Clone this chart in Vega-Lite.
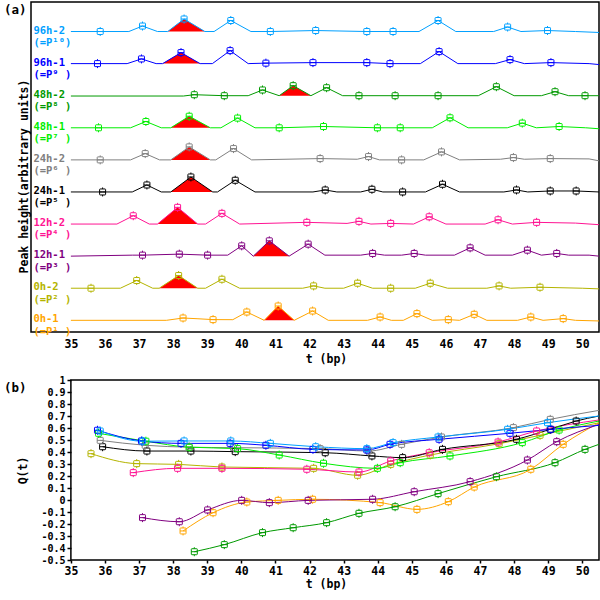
{
  "$schema": "https://vega.github.io/schema/vega-lite/v6.json",
  "background": "white",
  "padding": {"left": 3, "top": 1, "right": 0, "bottom": 0},
  "spacing": 9,
  "config": {
    "font": "DejaVu Sans Mono",
    "view": {"stroke": "black", "strokeWidth": 1.5},
    "axis": {
      "labelFont": "DejaVu Sans Mono", "labelFontWeight": "bold", "labelFontSize": 11.5, "labelColor": "black",
      "titleFont": "DejaVu Sans Mono", "titleFontWeight": "bold", "titleFontSize": 11.5, "titleColor": "black",
      "grid": false, "domain": false, "tickColor": "black", "tickWidth": 1.5, "labelFlush": false, "labelOverlap": false
    },
    "title": {"font": "DejaVu Sans Mono", "fontWeight": "bold", "fontSize": 12.5, "anchor": "start", "frame": "group", "offset": 0, "baseline": "bottom", "color": "black"}
  },
  "datasets": {
    "trace": [
      {"s":"96h-2","t":35,"y":9},{"s":"96h-2","t":35.86,"y":9,"m":1},{"s":"96h-2","t":36.7,"y":9},{"s":"96h-2","t":37.1,"y":9.171,"m":1},{"s":"96h-2","t":37.54,"y":9},
      {"s":"96h-2","t":37.84,"y":9,"f":1,"b":9},{"s":"96h-2","t":38.32,"y":9.39,"m":1,"f":1,"b":9},{"s":"96h-2","t":38.93,"y":9,"f":1,"b":9},
      {"s":"96h-2","t":39.2,"y":9},{"s":"96h-2","t":39.69,"y":9.343,"m":1},{"s":"96h-2","t":40.28,"y":9},{"s":"96h-2","t":40.85,"y":9,"m":1},
      {"s":"96h-2","t":42.18,"y":9.031,"m":1},{"s":"96h-2","t":43.68,"y":9,"m":1},{"s":"96h-2","t":44.45,"y":9,"m":1},{"s":"96h-2","t":45.21,"y":9},
      {"s":"96h-2","t":45.77,"y":9.343,"m":1},{"s":"96h-2","t":46.29,"y":9},{"s":"96h-2","t":47.4,"y":9},{"s":"96h-2","t":47.81,"y":9.14,"m":1},
      {"s":"96h-2","t":48.2,"y":9},{"s":"96h-2","t":48.98,"y":9.031,"m":1},{"s":"96h-2","t":49.8,"y":9},{"s":"96h-2","t":50.49,"y":8.97},

      {"s":"96h-1","t":35,"y":8},{"s":"96h-1","t":35.78,"y":8,"m":1},{"s":"96h-1","t":36.65,"y":8},{"s":"96h-1","t":37.07,"y":8.146,"m":1},{"s":"96h-1","t":37.5,"y":8},
      {"s":"96h-1","t":37.69,"y":8,"f":1,"b":8},{"s":"96h-1","t":38.23,"y":8.343,"m":1,"f":1,"b":8},{"s":"96h-1","t":38.79,"y":8,"f":1,"b":8},
      {"s":"96h-1","t":39.15,"y":8},{"s":"96h-1","t":39.67,"y":8.405,"m":1},{"s":"96h-1","t":40.2,"y":8},{"s":"96h-1","t":40.72,"y":8.015,"m":1},
      {"s":"96h-1","t":42.1,"y":8.031,"m":1},{"s":"96h-1","t":43.68,"y":8.031,"m":1},{"s":"96h-1","t":44.36,"y":8,"m":1},{"s":"96h-1","t":45.25,"y":8},
      {"s":"96h-1","t":45.8,"y":8.374,"m":1},{"s":"96h-1","t":46.35,"y":8},{"s":"96h-1","t":47.45,"y":8},{"s":"96h-1","t":47.88,"y":8.125,"m":1},
      {"s":"96h-1","t":48.3,"y":8},{"s":"96h-1","t":49.08,"y":8.031,"m":1},{"s":"96h-1","t":50.2,"y":8},{"s":"96h-1","t":50.49,"y":7.97},

      {"s":"48h-2","t":35,"y":6.99},{"s":"48h-2","t":38.3,"y":6.99},{"s":"48h-2","t":38.62,"y":7.031,"m":1},{"s":"48h-2","t":39.5,"y":7,"m":1},
      {"s":"48h-2","t":40.2,"y":7},{"s":"48h-2","t":40.62,"y":7.178,"m":1},
      {"s":"48h-2","t":41.11,"y":7,"f":1,"b":7},{"s":"48h-2","t":41.52,"y":7.312,"m":1,"f":1,"b":7},{"s":"48h-2","t":42.04,"y":7,"f":1,"b":7},
      {"s":"48h-2","t":42.5,"y":7.249,"m":1},{"s":"48h-2","t":42.97,"y":7},{"s":"48h-2","t":43.45,"y":7,"m":1},{"s":"48h-2","t":44.51,"y":7,"m":1},
      {"s":"48h-2","t":45.77,"y":7,"m":1},{"s":"48h-2","t":46.95,"y":7},{"s":"48h-2","t":47.48,"y":7.28,"m":1},{"s":"48h-2","t":48.0,"y":7},
      {"s":"48h-2","t":48.8,"y":7},{"s":"48h-2","t":49.2,"y":7.125,"m":1},{"s":"48h-2","t":49.6,"y":7},{"s":"48h-2","t":50.08,"y":7,"m":1},{"s":"48h-2","t":50.49,"y":7},

      {"s":"48h-1","t":35,"y":6},{"s":"48h-1","t":35.81,"y":6,"m":1},{"s":"48h-1","t":36.75,"y":6},{"s":"48h-1","t":37.2,"y":6.196,"m":1},{"s":"48h-1","t":37.65,"y":6},
      {"s":"48h-1","t":37.93,"y":6,"f":1,"b":6},{"s":"48h-1","t":38.47,"y":6.36,"m":1,"f":1,"b":6},{"s":"48h-1","t":39.09,"y":6,"f":1,"b":6},
      {"s":"48h-1","t":39.4,"y":6},{"s":"48h-1","t":39.89,"y":6.302,"m":1},{"s":"48h-1","t":40.4,"y":6},{"s":"48h-1","t":41.11,"y":6,"m":1},
      {"s":"48h-1","t":42.41,"y":6.04,"m":1},{"s":"48h-1","t":43.99,"y":6,"m":1},{"s":"48h-1","t":44.66,"y":6,"m":1},{"s":"48h-1","t":45.6,"y":6},
      {"s":"48h-1","t":46.12,"y":6.312,"m":1},{"s":"48h-1","t":46.65,"y":6},{"s":"48h-1","t":47.8,"y":6},{"s":"48h-1","t":48.24,"y":6.146,"m":1},
      {"s":"48h-1","t":48.65,"y":6},{"s":"48h-1","t":49.32,"y":6.04,"m":1},{"s":"48h-1","t":50.1,"y":6},{"s":"48h-1","t":50.49,"y":5.97},

      {"s":"24h-2","t":35,"y":5},{"s":"24h-2","t":35.86,"y":5,"m":1},{"s":"24h-2","t":36.75,"y":5},{"s":"24h-2","t":37.18,"y":5.196,"m":1},{"s":"24h-2","t":37.6,"y":5},
      {"s":"24h-2","t":37.93,"y":5,"f":1,"b":5},{"s":"24h-2","t":38.47,"y":5.405,"m":1,"f":1,"b":5},{"s":"24h-2","t":39.09,"y":5,"f":1,"b":5},
      {"s":"24h-2","t":39.25,"y":5},{"s":"24h-2","t":39.77,"y":5.352,"m":1},{"s":"24h-2","t":40.3,"y":5},{"s":"24h-2","t":42.31,"y":5.04,"m":1},
      {"s":"24h-2","t":43.4,"y":5.02},{"s":"24h-2","t":43.73,"y":5.103,"m":1},{"s":"24h-2","t":44.05,"y":5},{"s":"24h-2","t":44.7,"y":5,"m":1},
      {"s":"24h-2","t":45.35,"y":5},{"s":"24h-2","t":45.87,"y":5.249,"m":1},{"s":"24h-2","t":46.4,"y":5},{"s":"24h-2","t":47.6,"y":5.02},
      {"s":"24h-2","t":47.98,"y":5.072,"m":1},{"s":"24h-2","t":48.3,"y":5.02},{"s":"24h-2","t":49.06,"y":5.04,"m":1},{"s":"24h-2","t":50.2,"y":5.03},{"s":"24h-2","t":50.49,"y":4.97},

      {"s":"24h-1","t":35,"y":4},{"s":"24h-1","t":35.93,"y":4,"m":1},{"s":"24h-1","t":36.8,"y":4},{"s":"24h-1","t":37.23,"y":4.218,"m":1},{"s":"24h-1","t":37.65,"y":4},
      {"s":"24h-1","t":37.93,"y":4,"f":1,"b":4},{"s":"24h-1","t":38.52,"y":4.467,"m":1,"f":1,"b":4},{"s":"24h-1","t":39.16,"y":4,"f":1,"b":4},
      {"s":"24h-1","t":39.3,"y":4},{"s":"24h-1","t":39.82,"y":4.365,"m":1},{"s":"24h-1","t":40.4,"y":4},{"s":"24h-1","t":42.1,"y":4},
      {"s":"24h-1","t":42.46,"y":4.062,"m":1},{"s":"24h-1","t":42.8,"y":4},{"s":"24h-1","t":43.5,"y":4},{"s":"24h-1","t":43.83,"y":4.084,"m":1},
      {"s":"24h-1","t":44.15,"y":4},{"s":"24h-1","t":44.73,"y":4,"m":1},{"s":"24h-1","t":45.4,"y":4},{"s":"24h-1","t":45.9,"y":4.24,"m":1},
      {"s":"24h-1","t":46.4,"y":4},{"s":"24h-1","t":47.7,"y":4},{"s":"24h-1","t":48.07,"y":4.062,"m":1},{"s":"24h-1","t":48.4,"y":4},
      {"s":"24h-1","t":49.06,"y":4.031,"m":1},{"s":"24h-1","t":49.82,"y":4.031,"m":1},{"s":"24h-1","t":50.49,"y":4},

      {"s":"12h-2","t":35,"y":3},{"s":"12h-2","t":36.35,"y":3},{"s":"12h-2","t":36.83,"y":3.259,"m":1},{"s":"12h-2","t":37.3,"y":3},
      {"s":"12h-2","t":37.54,"y":3,"f":1,"b":3},{"s":"12h-2","t":38.13,"y":3.52,"m":1,"f":1,"b":3},{"s":"12h-2","t":38.72,"y":3,"f":1,"b":3},
      {"s":"12h-2","t":38.95,"y":3},{"s":"12h-2","t":39.43,"y":3.333,"m":1},{"s":"12h-2","t":39.95,"y":3},{"s":"12h-2","t":41.92,"y":3.053,"m":1},
      {"s":"12h-2","t":43.1,"y":3.02},{"s":"12h-2","t":43.45,"y":3.084,"m":1},{"s":"12h-2","t":43.8,"y":3},{"s":"12h-2","t":44.38,"y":3.02,"m":1},
      {"s":"12h-2","t":45.05,"y":3},{"s":"12h-2","t":45.51,"y":3.227,"m":1},{"s":"12h-2","t":46.0,"y":3},{"s":"12h-2","t":47.15,"y":3},
      {"s":"12h-2","t":47.53,"y":3.134,"m":1},{"s":"12h-2","t":47.95,"y":3},{"s":"12h-2","t":48.66,"y":3.053,"m":1},{"s":"12h-2","t":49.8,"y":3.03},{"s":"12h-2","t":50.49,"y":2.98},

      {"s":"12h-1","t":35,"y":2},{"s":"12h-1","t":36.8,"y":2.031},{"s":"12h-1","t":37.1,"y":2.031,"m":1},{"s":"12h-1","t":38.18,"y":2.062,"m":1},
      {"s":"12h-1","t":39.01,"y":2.031,"m":1},{"s":"12h-1","t":39.6,"y":2.031},{"s":"12h-1","t":40.01,"y":2.321,"m":1},
      {"s":"12h-1","t":40.35,"y":2,"f":1,"b":2},{"s":"12h-1","t":40.82,"y":2.477,"m":1,"f":1,"b":2},{"s":"12h-1","t":41.4,"y":2,"f":1,"b":2},
      {"s":"12h-1","t":41.96,"y":2.374,"m":1},{"s":"12h-1","t":42.45,"y":2.031},{"s":"12h-1","t":43.5,"y":2.031},{"s":"12h-1","t":43.85,"y":2.084,"m":1},
      {"s":"12h-1","t":44.2,"y":2.031},{"s":"12h-1","t":44.7,"y":2.031},{"s":"12h-1","t":45.07,"y":2.084,"m":1},{"s":"12h-1","t":45.4,"y":2.031},
      {"s":"12h-1","t":46.25,"y":2.031},{"s":"12h-1","t":46.71,"y":2.259,"m":1},{"s":"12h-1","t":47.15,"y":2.031},{"s":"12h-1","t":47.95,"y":2.031},
      {"s":"12h-1","t":48.39,"y":2.187,"m":1},{"s":"12h-1","t":48.8,"y":2.031},{"s":"12h-1","t":49.25,"y":2.084,"m":1},{"s":"12h-1","t":49.6,"y":2.031},
      {"s":"12h-1","t":50.2,"y":2.031},{"s":"12h-1","t":50.49,"y":2},

      {"s":"0h-2","t":35,"y":1},{"s":"0h-2","t":35.59,"y":1,"m":1},{"s":"0h-2","t":36.45,"y":1},{"s":"0h-2","t":36.93,"y":1.24,"m":1},{"s":"0h-2","t":37.4,"y":1},
      {"s":"0h-2","t":37.59,"y":1,"f":1,"b":1},{"s":"0h-2","t":38.16,"y":1.396,"m":1,"f":1,"b":1},{"s":"0h-2","t":38.72,"y":1,"f":1,"b":1},
      {"s":"0h-2","t":38.95,"y":1},{"s":"0h-2","t":39.43,"y":1.28,"m":1},{"s":"0h-2","t":39.95,"y":1},{"s":"0h-2","t":41.8,"y":1},
      {"s":"0h-2","t":42.12,"y":1.072,"m":1},{"s":"0h-2","t":42.45,"y":1},{"s":"0h-2","t":43.0,"y":1},{"s":"0h-2","t":43.41,"y":1.156,"m":1},
      {"s":"0h-2","t":43.85,"y":1},{"s":"0h-2","t":44.38,"y":1,"m":1},{"s":"0h-2","t":45.1,"y":1},{"s":"0h-2","t":45.54,"y":1.156,"m":1},
      {"s":"0h-2","t":46.05,"y":1},{"s":"0h-2","t":47.2,"y":1},{"s":"0h-2","t":47.56,"y":1.072,"m":1},{"s":"0h-2","t":47.9,"y":1},
      {"s":"0h-2","t":48.76,"y":1.031,"m":1},{"s":"0h-2","t":50.0,"y":1},{"s":"0h-2","t":50.49,"y":0.98},

      {"s":"0h-1","t":35,"y":0},{"s":"0h-1","t":37.8,"y":0},{"s":"0h-1","t":38.29,"y":0.072,"m":1},{"s":"0h-1","t":38.7,"y":0.05},
      {"s":"0h-1","t":39.17,"y":0.022,"m":1},{"s":"0h-1","t":39.75,"y":0.02},{"s":"0h-1","t":40.16,"y":0.259,"m":1},
      {"s":"0h-1","t":40.67,"y":0,"f":1,"b":0},{"s":"0h-1","t":41.08,"y":0.446,"m":1,"f":1,"b":0},{"s":"0h-1","t":41.55,"y":0,"f":1,"b":0},
      {"s":"0h-1","t":42.09,"y":0.29,"m":1},{"s":"0h-1","t":42.55,"y":0},{"s":"0h-1","t":43.7,"y":0},{"s":"0h-1","t":44.07,"y":0.103,"m":1},
      {"s":"0h-1","t":44.4,"y":0},{"s":"0h-1","t":44.75,"y":0},{"s":"0h-1","t":45.15,"y":0.209,"m":1},{"s":"0h-1","t":45.6,"y":0},
      {"s":"0h-1","t":46.07,"y":0.022,"m":1},{"s":"0h-1","t":46.4,"y":0},{"s":"0h-1","t":46.83,"y":0.187,"m":1},{"s":"0h-1","t":47.2,"y":0},
      {"s":"0h-1","t":48.1,"y":0},{"s":"0h-1","t":48.49,"y":0.103,"m":1},{"s":"0h-1","t":48.85,"y":0},{"s":"0h-1","t":49.44,"y":0.053,"m":1},
      {"s":"0h-1","t":49.8,"y":0},{"s":"0h-1","t":50.49,"y":-0.02}
    ],
    "labels": [
      {"s":"96h-2","t":33.9,"y":9.03,"txt":["96h-2","(=P¹⁰)"]},
      {"s":"96h-1","t":33.9,"y":8.03,"txt":["96h-1","(=P⁹ )"]},
      {"s":"48h-2","t":33.9,"y":7.03,"txt":["48h-2","(=P⁸ )"]},
      {"s":"48h-1","t":33.9,"y":6.03,"txt":["48h-1","(=P⁷ )"]},
      {"s":"24h-2","t":33.9,"y":5.03,"txt":["24h-2","(=P⁶ )"]},
      {"s":"24h-1","t":33.9,"y":4.03,"txt":["24h-1","(=P⁵ )"]},
      {"s":"12h-2","t":33.9,"y":3.03,"txt":["12h-2","(=P⁴ )"]},
      {"s":"12h-1","t":33.9,"y":2.03,"txt":["12h-1","(=P³ )"]},
      {"s":"0h-2","t":33.9,"y":1.03,"txt":["0h-2","(=P² )"]},
      {"s":"0h-1","t":33.9,"y":0.03,"txt":["0h-1","(=P¹ )"]}
    ],
    "frame": [{"a": 35, "b": 50.49, "lo": -0.5, "hi": 1}],
    "q": [
      {"s":"0h-1","t":38.29,"q":-0.258,"m":1},{"s":"0h-1","t":39.17,"q":-0.106,"m":1},{"s":"0h-1","t":40.16,"q":-0.017,"m":1},{"s":"0h-1","t":41.08,"q":-0.003,"m":1},
      {"s":"0h-1","t":42.09,"q":0.006,"m":1},{"s":"0h-1","t":44.07,"q":-0.022,"m":1},{"s":"0h-1","t":45.15,"q":-0.078,"m":1},{"s":"0h-1","t":46.07,"q":-0.014,"m":1},
      {"s":"0h-1","t":46.83,"q":0.108,"m":1},{"s":"0h-1","t":48.49,"q":0.256,"m":1},{"s":"0h-1","t":49.44,"q":0.464,"m":1},{"s":"0h-1","t":50.49,"q":0.644},

      {"s":"0h-2","t":35.59,"q":0.386,"m":1},{"s":"0h-2","t":36.93,"q":0.303,"m":1},{"s":"0h-2","t":38.16,"q":0.297,"m":1},{"s":"0h-2","t":39.43,"q":0.275,"m":1},
      {"s":"0h-2","t":42.12,"q":0.264,"m":1},{"s":"0h-2","t":43.41,"q":0.206,"m":1},{"s":"0h-2","t":44.38,"q":0.297,"m":1},{"s":"0h-2","t":45.54,"q":0.375,"m":1},
      {"s":"0h-2","t":47.56,"q":0.469,"m":1},{"s":"0h-2","t":48.76,"q":0.539,"m":1},{"s":"0h-2","t":50.49,"q":0.644},

      {"s":"12h-1","t":37.1,"q":-0.147,"m":1},{"s":"12h-1","t":38.18,"q":-0.181,"m":1},{"s":"12h-1","t":39.01,"q":-0.083,"m":1},{"s":"12h-1","t":40.01,"q":-0.003,"m":1},
      {"s":"12h-1","t":40.82,"q":-0.022,"m":1},{"s":"12h-1","t":41.96,"q":-0.003,"m":1},{"s":"12h-1","t":43.85,"q":0.006,"m":1},{"s":"12h-1","t":45.07,"q":0.069,"m":1},
      {"s":"12h-1","t":46.71,"q":0.153,"m":1},{"s":"12h-1","t":48.39,"q":0.333,"m":1},{"s":"12h-1","t":49.25,"q":0.486,"m":1},{"s":"12h-1","t":50.49,"q":0.63},

      {"s":"12h-2","t":36.83,"q":0.228,"m":1},{"s":"12h-2","t":38.13,"q":0.264,"m":1},{"s":"12h-2","t":39.43,"q":0.264,"m":1},{"s":"12h-2","t":41.92,"q":0.256,"m":1},
      {"s":"12h-2","t":43.45,"q":0.233,"m":1},{"s":"12h-2","t":44.38,"q":0.325,"m":1},{"s":"12h-2","t":45.51,"q":0.394,"m":1},{"s":"12h-2","t":47.53,"q":0.483,"m":1},
      {"s":"12h-2","t":48.66,"q":0.575,"m":1},{"s":"12h-2","t":50.49,"q":0.667},

      {"s":"24h-1","t":35.93,"q":0.444,"m":1},{"s":"24h-1","t":37.23,"q":0.408,"m":1},{"s":"24h-1","t":38.52,"q":0.408,"m":1},{"s":"24h-1","t":39.82,"q":0.403,"m":1},
      {"s":"24h-1","t":42.46,"q":0.394,"m":1},{"s":"24h-1","t":43.83,"q":0.367,"m":1},{"s":"24h-1","t":44.73,"q":0.353,"m":1},{"s":"24h-1","t":45.9,"q":0.422,"m":1},
      {"s":"24h-1","t":48.07,"q":0.506,"m":1},{"s":"24h-1","t":49.06,"q":0.589,"m":1},{"s":"24h-1","t":49.82,"q":0.658,"m":1},{"s":"24h-1","t":50.49,"q":0.7},

      {"s":"24h-2","t":35.86,"q":0.497,"m":1},{"s":"24h-2","t":37.18,"q":0.456,"m":1},{"s":"24h-2","t":38.47,"q":0.44,"m":1},{"s":"24h-2","t":39.77,"q":0.436,"m":1},
      {"s":"24h-2","t":42.31,"q":0.428,"m":1},{"s":"24h-2","t":43.73,"q":0.408,"m":1},{"s":"24h-2","t":44.7,"q":0.464,"m":1},{"s":"24h-2","t":45.87,"q":0.525,"m":1},
      {"s":"24h-2","t":47.98,"q":0.603,"m":1},{"s":"24h-2","t":49.06,"q":0.672,"m":1},{"s":"24h-2","t":50.49,"q":0.747},

      {"s":"48h-1","t":35.81,"q":0.556,"m":1},{"s":"48h-1","t":37.2,"q":0.49,"m":1},{"s":"48h-1","t":38.47,"q":0.44,"m":1},{"s":"48h-1","t":39.89,"q":0.428,"m":1},
      {"s":"48h-1","t":41.11,"q":0.375,"m":1},{"s":"48h-1","t":42.41,"q":0.306,"m":1},{"s":"48h-1","t":43.99,"q":0.264,"m":1},{"s":"48h-1","t":44.66,"q":0.311,"m":1},
      {"s":"48h-1","t":46.12,"q":0.367,"m":1},{"s":"48h-1","t":48.24,"q":0.478,"m":1},{"s":"48h-1","t":49.32,"q":0.583,"m":1},{"s":"48h-1","t":50.49,"q":0.658},

      {"s":"48h-2","t":38.62,"q":-0.431,"m":1},{"s":"48h-2","t":39.5,"q":-0.372,"m":1},{"s":"48h-2","t":40.62,"q":-0.272,"m":1},{"s":"48h-2","t":41.52,"q":-0.231,"m":1},
      {"s":"48h-2","t":42.5,"q":-0.189,"m":1},{"s":"48h-2","t":43.45,"q":-0.111,"m":1},{"s":"48h-2","t":44.51,"q":-0.056,"m":1},{"s":"48h-2","t":45.77,"q":0.053,"m":1},
      {"s":"48h-2","t":47.48,"q":0.194,"m":1},{"s":"48h-2","t":49.2,"q":0.311,"m":1},{"s":"48h-2","t":50.08,"q":0.422,"m":1},{"s":"48h-2","t":50.49,"q":0.464},

      {"s":"96h-1","t":35.78,"q":0.581,"m":1},{"s":"96h-1","t":37.07,"q":0.492,"m":1},{"s":"96h-1","t":38.23,"q":0.472,"m":1},{"s":"96h-1","t":39.67,"q":0.472,"m":1},
      {"s":"96h-1","t":40.72,"q":0.456,"m":1},{"s":"96h-1","t":42.1,"q":0.422,"m":1},{"s":"96h-1","t":43.68,"q":0.417,"m":1},{"s":"96h-1","t":44.36,"q":0.464,"m":1},
      {"s":"96h-1","t":45.8,"q":0.506,"m":1},{"s":"96h-1","t":47.88,"q":0.556,"m":1},{"s":"96h-1","t":49.08,"q":0.589,"m":1},{"s":"96h-1","t":50.49,"q":0.622},

      {"s":"96h-2","t":35.86,"q":0.575,"m":1},{"s":"96h-2","t":37.1,"q":0.49,"m":1},{"s":"96h-2","t":38.32,"q":0.492,"m":1},{"s":"96h-2","t":39.69,"q":0.492,"m":1},
      {"s":"96h-2","t":40.85,"q":0.472,"m":1},{"s":"96h-2","t":42.18,"q":0.444,"m":1},{"s":"96h-2","t":43.68,"q":0.428,"m":1},{"s":"96h-2","t":44.45,"q":0.478,"m":1},
      {"s":"96h-2","t":45.77,"q":0.525,"m":1},{"s":"96h-2","t":47.81,"q":0.589,"m":1},{"s":"96h-2","t":48.98,"q":0.644,"m":1},{"s":"96h-2","t":50.49,"q":0.7}
    ]
  },
  "vconcat": [
    {
      "width": 568,
      "height": 330,
      "title": {"text": "(a)", "dx": -27, "dy": 18},
      "encoding": {
        "x": {"field": "t", "type": "quantitative", "scale": {"domain": [33.83, 50.49], "nice": false, "zero": false},
          "axis": {"values": [35,36,37,38,39,40,41,42,43,44,45,46,47,48,49,50], "format": "d", "ticks": false, "tickSize": 0, "labelPadding": 6, "title": "t (bp)", "titlePadding": 4, "titleX": 295}},
        "y": {"field": "y", "type": "quantitative", "scale": {"domain": [-0.364, 9.92], "nice": false, "zero": false},
          "axis": {"title": "Peak height(arbitrary units)", "labels": false, "ticks": false, "tickSize": 0, "titlePadding": 2, "titleY": 174}},
        "color": {"field": "s", "type": "nominal", "legend": null,
          "scale": {"domain": ["0h-1","0h-2","12h-1","12h-2","24h-1","24h-2","48h-1","48h-2","96h-1","96h-2"],
            "range": ["#ffa500","#b4b400","#800080","#ff1493","#000000","#808080","#00ee00","#009900","#0000ff","#00a0ff"]}}
      },
      "layer": [
        {
          "data": {"name": "trace"},
          "transform": [{"filter": "datum.f == 1"}],
          "mark": {"type": "area", "color": "#ff0000", "interpolate": "linear"},
          "encoding": {"y2": {"field": "b"}, "detail": {"field": "s"}, "color": {"value": "#ff0000"}}
        },
        {
          "data": {"name": "trace"},
          "mark": {"type": "line", "strokeWidth": 1, "interpolate": "linear"}
        },
        {
          "data": {"name": "trace"},
          "transform": [{"filter": "datum.m == 1"}],
          "mark": {"type": "point", "shape": "M-1,-0.8Q-1,-1 -0.8,-1H0.8Q1,-1 1,-0.8V0.8Q1,1 0.8,1H-0.8Q-1,1 -1,0.8ZM0,-1V-1.5M0,1V1.5M-1,0H1", "size": 36, "filled": false, "strokeWidth": 1, "opacity": 1}
        },
        {
          "data": {"name": "labels"},
          "mark": {"type": "text", "align": "left", "baseline": "middle", "font": "DejaVu Sans Mono", "fontWeight": "bold", "fontSize": 10.5, "lineHeight": 12.4},
          "encoding": {"text": {"field": "txt"}}
        }
      ]
    },
    {
      "width": 568,
      "height": 180,
      "view": {"stroke": null},
      "title": {"text": "(b)", "dx": -27, "dy": 23},
      "encoding": {
        "x": {"field": "t", "type": "quantitative", "scale": {"domain": [33.83, 50.49], "nice": false, "zero": false},
          "axis": {"values": [35,36,37,38,39,40,41,42,43,44,45,46,47,48,49,50], "format": "d", "tickSize": 3, "labelPadding": 2, "title": "t (bp)", "titlePadding": 2, "titleX": 295}},
        "y": {"field": "q", "type": "quantitative", "scale": {"domain": [-0.5, 1], "nice": false, "zero": false},
          "axis": {"values": [-0.5,-0.4,-0.3,-0.2,-0.1,0,0.1,0.2,0.3,0.4,0.5,0.6,0.7,0.8,0.9,1], "offset": -40, "tickSize": 4, "labelPadding": 2,
            "labelFontSize": 10, "title": "Q(t)", "titlePadding": 12,
            "labelExpr": "datum.value < 0 ? '-' + format(-datum.value, '.1~f') : format(datum.value, '.1~f')"}},
        "color": {"field": "s", "type": "nominal", "legend": null,
          "scale": {"domain": ["0h-1","0h-2","12h-1","12h-2","24h-1","24h-2","48h-1","48h-2","96h-1","96h-2"],
            "range": ["#ffa500","#b4b400","#800080","#ff1493","#000000","#808080","#00ee00","#009900","#0000ff","#00a0ff"]}}
      },
      "layer": [
        {
          "data": {"name": "frame"},
          "mark": {"type": "rect", "filled": false, "strokeWidth": 1.5},
          "encoding": {
            "x": {"field": "a", "type": "quantitative", "title": "t (bp)"},
            "x2": {"field": "b"},
            "y": {"field": "lo", "type": "quantitative", "title": "Q(t)"},
            "y2": {"field": "hi"},
            "color": {"value": "black"}
          }
        },
        {
          "data": {"name": "q"},
          "mark": {"type": "line", "strokeWidth": 1, "interpolate": "monotone"}
        },
        {
          "data": {"name": "q"},
          "transform": [{"filter": "datum.m == 1"}],
          "mark": {"type": "point", "shape": "M-1,-0.8Q-1,-1 -0.8,-1H0.8Q1,-1 1,-0.8V0.8Q1,1 0.8,1H-0.8Q-1,1 -1,0.8ZM0,-1V-1.5M0,1V1.5M-1,0H1", "size": 36, "filled": false, "strokeWidth": 1, "opacity": 1}
        }
      ]
    }
  ]
}
